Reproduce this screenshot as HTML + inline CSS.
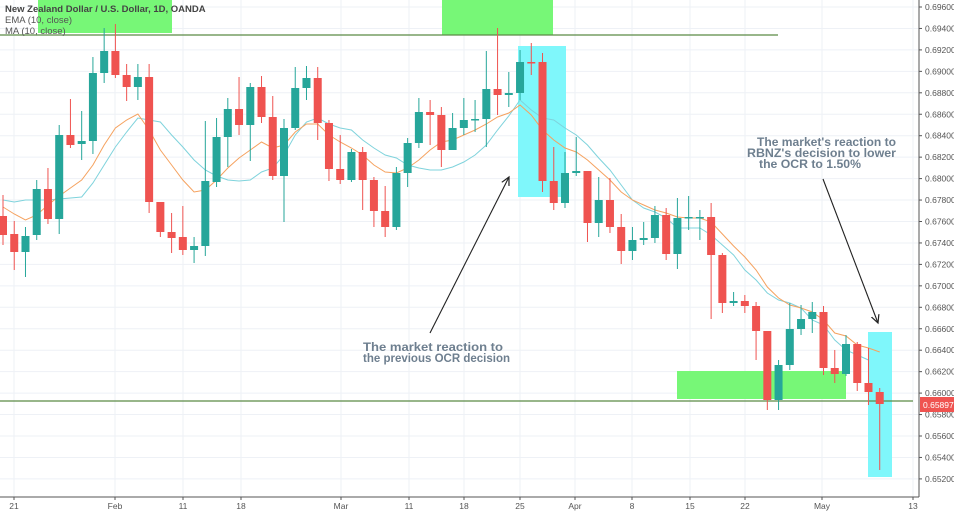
<!DOCTYPE html>
<html><head><meta charset="utf-8"><style>
html,body{margin:0;padding:0;background:#fff;width:954px;height:513px;overflow:hidden}
svg{display:block;font-family:"Liberation Sans",sans-serif}
</style></head><body>
<svg id="s" width="954" height="513" viewBox="0 0 954 513" xmlns="http://www.w3.org/2000/svg">
<rect width="954" height="513" fill="#fff"/>
<g id="grid" stroke="#eef1f6" stroke-width="1"></g>
<rect x="38" y="0" width="134" height="33" fill="#77f777"/>
<rect x="442" y="0" width="111" height="35" fill="#77f777"/>
<rect x="677" y="371" width="169" height="28" fill="#77f777"/>
<rect x="518" y="46" width="48" height="151" fill="#7ff7fb"/>
<rect x="868" y="332" width="24" height="145" fill="#7ff7fb"/>
<line x1="0" y1="35" x2="778" y2="35" stroke="#5b8a45" stroke-width="1.3"/>
<line x1="0" y1="401" x2="913" y2="401" stroke="#5b8a45" stroke-width="1.3"/>
<polyline id="ma" fill="none" stroke="#7fd3dc" stroke-width="1"/>
<polyline id="ema" fill="none" stroke="#f5a25f" stroke-width="1"/>
<g id="candles"></g>
<line x1="919" y1="0" x2="919" y2="497" stroke="#555" stroke-width="1"/>
<line x1="0" y1="497" x2="919" y2="497" stroke="#555" stroke-width="1"/>
<g id="ylab" font-size="8.5" fill="#555"></g>
<g id="xlab" font-size="8.5" fill="#555" text-anchor="middle"></g>
<rect x="920" y="397" width="34" height="15" fill="#ef5350"/>
<text x="923" y="408" font-size="8.5" fill="#fff">0.65897</text>
<text x="5" y="12" font-size="9.5" font-weight="bold" fill="#444">New Zealand Dollar / U.S. Dollar, 1D, OANDA</text>
<text x="5" y="23" font-size="9.5" fill="#555">EMA (10, close)</text>
<text x="5" y="34" font-size="9.5" fill="#555">MA (10, close)</text>
<g font-size="12" font-weight="bold" fill="#6e7f8f">
<text x="363" y="351" textLength="140" lengthAdjust="spacingAndGlyphs">The market reaction to</text>
<text x="363" y="362" textLength="147" lengthAdjust="spacingAndGlyphs">the previous OCR decision</text>
<text x="757" y="146" textLength="139" lengthAdjust="spacingAndGlyphs">The market's reaction to</text>
<text x="747" y="157" textLength="149" lengthAdjust="spacingAndGlyphs">RBNZ's decision to lower</text>
<text x="759" y="168" textLength="102" lengthAdjust="spacingAndGlyphs">the OCR to 1.50%</text>
</g>
<defs><marker id="ah" markerWidth="10" markerHeight="10" refX="8" refY="5" orient="auto" markerUnits="userSpaceOnUse"><path d="M0,1 L8,5 L0,9" fill="none" stroke="#222" stroke-width="1.2"/></marker></defs>
<line x1="430" y1="333" x2="509" y2="177" stroke="#222" stroke-width="1.1" marker-end="url(#ah)"/>
<line x1="823" y1="179" x2="878" y2="323" stroke="#222" stroke-width="1.1" marker-end="url(#ah)"/>
</svg>
<script>
var NS="http://www.w3.org/2000/svg";
function el(p,t,a,txt){var e=document.createElementNS(NS,t);for(var k in a)e.setAttribute(k,a[k]);if(txt)e.textContent=txt;document.getElementById(p).appendChild(e);}
// grid + y labels
for(var i=0;i<=22;i++){var v=0.696-i*0.002;var y=7+i*21.45;
 el("grid","line",{x1:0,y1:y,x2:919,y2:y});
 el("ylab","text",{x:925,y:y+3},v.toFixed(5));
 el("ylab","line",{x1:919,y1:y,x2:922,y2:y,stroke:"#555"});}
var xl=[[14,"21"],[115,"Feb"],[183,"11"],[241,"18"],[341,"Mar"],[409,"11"],[464,"18"],[520,"25"],[575,"Apr"],[632,"8"],[690,"15"],[745,"22"],[822,"May"],[913,"13"]];
xl.forEach(function(d){el("grid","line",{x1:d[0],y1:0,x2:d[0],y2:497});el("xlab","text",{x:d[0],y:509},d[1]);el("xlab","line",{x1:d[0],y1:497,x2:d[0],y2:500,stroke:"#555"});});
// candles: [up?, top, bottom, wickTop, wickBottom]
var C=[[0,216,235,195,245],[0,234,252,221,270],[1,236,252,227,277],[1,189,235,180,240],[0,189,219,168,224],[1,135,219,125,234],[0,135,145,99,148],[1,141,144,111,160],[1,73,141,57,154],[1,51,73,28,83],[0,51,75,24,78],[0,75,87,64,101],[1,77,87,64,100],[0,77,202,64,213],[0,202,232,202,237],[0,232,238,213,253],[0,237,250,206,255],[1,246,250,237,263],[1,181,246,121,256],[1,137,182,118,187],[1,109,137,98,167],[0,109,125,77,135],[1,87,125,83,161],[0,87,117,76,123],[0,117,176,96,180],[1,128,176,119,222],[1,88,128,67,130],[1,78,88,66,100],[0,78,123,67,140],[0,123,169,120,181],[0,169,180,135,184],[1,152,180,149,182],[0,152,180,147,210],[0,180,211,177,227],[0,211,227,186,237],[1,173,227,167,230],[1,143,173,138,187],[1,112,143,98,148],[0,112,115,100,145],[0,115,150,107,167],[1,128,150,113,150],[1,120,128,98,135],[1,119,120,100,132],[1,89,119,51,147],[0,89,95,28,115],[1,93,95,72,107],[1,62,93,50,100],[0,62,63,43,75],[0,62,181,53,192],[0,181,203,147,210],[1,173,203,152,208],[1,171,173,137,176],[0,171,223,171,242],[1,200,223,177,237],[0,200,227,178,233],[0,227,251,214,264],[1,240,251,227,260],[1,238,240,222,245],[1,215,238,206,243],[0,215,254,208,260],[1,218,254,198,269],[1,217,218,196,230],[1,217,218,210,240],[0,217,255,203,319],[0,255,303,253,313],[1,301,303,292,306],[0,301,306,295,313],[0,306,331,302,360],[0,331,400,331,410],[1,365,400,360,410],[1,329,365,303,370],[1,319,329,305,335],[1,312,319,302,333],[0,312,368,306,375],[0,368,374,350,383],[1,344,374,335,376],[0,344,383,342,391],[0,383,392,348,405],[0,392,404,388,470]];
C.forEach(function(c,i){var x=3+i*11.24;var col=c[0]?"#26a69a":"#ef5350";
 el("candles","line",{x1:x,y1:c[3],x2:x,y2:c[4],stroke:col,"stroke-width":1});
 el("candles","rect",{x:x-4,y:c[1],width:8,height:Math.max(1.5,c[2]-c[1]),fill:col});});
var X=function(i){return 3+i*11.24;};
var ema=[207,214,220,215,205,196,188,180,165,145,128,120,114,130,150,165,180,192,190,180,168,158,150,142,148,145,132,124,124,135,142,148,155,165,172,173,168,160,150,142,140,135,130,124,117,113,105,115,130,140,148,152,160,170,180,192,200,205,210,213,217,218,218,222,234,246,257,270,287,298,305,308,312,320,333,336,345,348,352];
var ma=[200,202,200,200,200,199,198,197,183,165,147,132,118,120,122,135,147,160,170,176,180,181,180,172,168,155,135,122,118,124,128,130,140,148,155,158,165,168,170,170,167,162,155,145,130,116,100,110,118,120,128,135,145,158,170,185,200,208,212,218,228,228,228,235,245,255,270,280,293,300,303,308,320,325,340,350,355,360];
document.getElementById("ema").setAttribute("points",ema.map(function(y,i){return X(i)+","+y;}).join(" "));
document.getElementById("ma").setAttribute("points",ma.map(function(y,i){return X(i)+","+y;}).join(" "));
</script>
</body></html>
